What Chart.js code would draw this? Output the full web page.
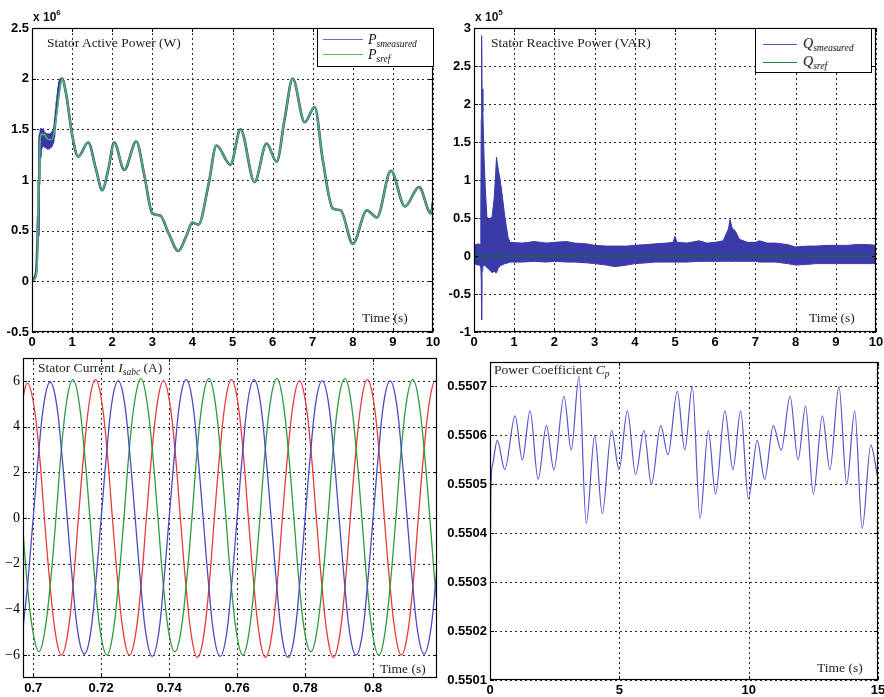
<!DOCTYPE html>
<html>
<head>
<meta charset="utf-8">
<script src="https://cdn.jsdelivr.net/npm/chart.js@4.4.0/dist/chart.umd.min.js"></script>
<style>
body { margin: 0; background: #fff; }
#wrap { position: relative; width: 884px; height: 697px; overflow: hidden; background: #fff; }
canvas { position: absolute; }
.t { position: absolute; font-family: "Liberation Serif", "Times New Roman", serif; font-size: 13.5px; line-height: 14px; color: #222; white-space: nowrap; }
.t sub, .lt sub { font-size: 9.5px; font-style: italic; vertical-align: -3px; line-height: 0; }
.exp { position: absolute; font: bold 12px "Liberation Sans", Arial, sans-serif; color: #111; white-space: nowrap; }
.exp sup { font-size: 8px; vertical-align: 6px; line-height: 0; }
.leg { position: absolute; border: 1px solid #000; background: #fff; }
.leg .ln { position: absolute; height: 0; border-top: 1.5px solid; }
.lt { position: absolute; font-family: "Liberation Serif", "Times New Roman", serif; font-size: 14px; line-height: 14px; color: #111; white-space: nowrap; }
</style>
</head>
<body>
<div id="wrap">
  <canvas id="c1" width="442" height="350" style="left:0;top:0"></canvas>
  <canvas id="c2" width="442" height="350" style="left:442px;top:0"></canvas>
  <canvas id="c3" width="442" height="347" style="left:0;top:350px"></canvas>
  <canvas id="c4" width="442" height="347" style="left:442px;top:350px"></canvas>

  <div class="exp" style="left:33px;top:10px">x 10<sup>6</sup></div>
  <div class="t" style="left:47px;top:36px">Stator Active Power (W)</div>
  <div class="t" style="left:362px;top:311px">Time (s)</div>
  <div class="leg" style="left:317px;top:28px;width:115px;height:37px">
    <div class="ln" style="left:5px;top:10px;width:40px;border-color:#6c6cd6"></div>
    <div class="ln" style="left:5px;top:25px;width:40px;border-color:#5cb85c"></div>
    <div class="lt" style="left:50px;top:4px"><i>P</i><sub>smeasured</sub></div>
    <div class="lt" style="left:50px;top:19px"><i>P</i><sub>sref</sub></div>
  </div>

  <div class="exp" style="left:475px;top:10px">x 10<sup>5</sup></div>
  <div class="t" style="left:491px;top:36px">Stator Reactive Power (VAR)</div>
  <div class="t" style="left:809px;top:311px">Time (s)</div>
  <div class="leg" style="left:755px;top:28px;width:115px;height:43px">
    <div class="ln" style="left:7px;top:15px;width:34px;border-color:#5050cc"></div>
    <div class="ln" style="left:7px;top:33px;width:34px;border-color:#208040"></div>
    <div class="lt" style="left:47px;top:8px"><i>Q</i><sub>smeasured</sub></div>
    <div class="lt" style="left:47px;top:26px"><i>Q</i><sub>sref</sub></div>
  </div>

  <div class="t" style="left:38px;top:361px">Stator Current <i>I</i><sub>sabc</sub> (A)</div>
  <div class="t" style="left:380px;top:662px">Time (s)</div>

  <div class="t" style="left:494px;top:363px">Power Coefficient <i>C</i><sub>p</sub></div>
  <div class="t" style="left:817px;top:661px">Time (s)</div>
</div>
<script>
// ---- Stator active power (x 10^6 W) ----
var pTime = [0, 0.1, 0.13, 0.17, 0.2, 0.22, 0.3, 0.4, 0.5, 0.6, 0.68, 0.75, 0.85, 1.0, 1.15, 1.4, 1.6, 1.75, 1.9, 2.05,
  2.3, 2.6, 2.8, 3.0, 3.2, 3.4, 3.65, 3.85, 4.0, 4.15, 4.4, 4.6, 4.95, 5.2, 5.55, 5.85, 6.1, 6.3, 6.5, 6.8,
  7.05, 7.25, 7.5, 7.7, 8.0, 8.35, 8.6, 8.95, 9.3, 9.65, 9.95, 10];
var pRef = [0, 0.05, 0.2, 0.9, 1.35, 1.45, 1.45, 1.4, 1.4, 1.6, 1.85, 2.0, 1.85, 1.45, 1.23, 1.37, 1.1, 0.9, 1.1, 1.37,
  1.1, 1.38, 1.05, 0.67, 0.65, 0.48, 0.3, 0.45, 0.58, 0.56, 0.95, 1.34, 1.15, 1.5, 0.98, 1.36, 1.18, 1.6, 2.0, 1.57,
  1.72, 1.2, 0.72, 0.7, 0.37, 0.7, 0.63, 1.09, 0.74, 0.93, 0.67, 0.78];
// measured power during the start-up transient (after 0.75 s it follows the reference)
var pMeasTime = [0, 0.05, 0.1, 0.12, 0.14, 0.15, 0.16, 0.17, 0.18, 0.19,
  0.20, 0.21, 0.22, 0.23, 0.24, 0.25, 0.26, 0.27, 0.28, 0.29, 0.30, 0.31, 0.32, 0.33, 0.34, 0.35, 0.36,
  0.37, 0.38, 0.39, 0.40, 0.41, 0.42, 0.43, 0.44, 0.45, 0.46, 0.47, 0.48, 0.49, 0.50, 0.51, 0.52, 0.53,
  0.54, 0.55, 0.56, 0.57, 0.58, 0.59, 0.60, 0.61, 0.62, 0.63, 0.64, 0.65, 0.66, 0.67, 0.68, 0.69, 0.70];
var pMeas = [0, 0.03, 0.08, 0.2, 0.45, 0.65, 0.45, 1.0, 0.95, 1.45,
  1.45, 1.22, 1.5, 1.3, 1.5, 1.32, 1.48, 1.34, 1.5, 1.35, 1.47, 1.33, 1.45, 1.33, 1.46, 1.32, 1.44,
  1.32, 1.45, 1.31, 1.44, 1.32, 1.45, 1.31, 1.44, 1.32, 1.45, 1.33, 1.46, 1.33, 1.47, 1.35, 1.48, 1.37,
  1.5, 1.42, 1.55, 1.5, 1.62, 1.58, 1.7, 1.66, 1.78, 1.72, 1.85, 1.8, 1.92, 1.86, 1.97, 1.9, 1.98];
var pTicksX = [0, 1, 2, 3, 4, 5, 6, 7, 8, 9, 10];
var pTicksY = [-0.5, 0, 0.5, 1, 1.5, 2, 2.5];

// ---- Stator reactive power (x 10^5 VAR): envelope of the measured ripple ----
var qTime = [0, 0.1, 0.15, 0.17, 0.18, 0.19, 0.2, 0.22, 0.25, 0.28, 0.32, 0.38, 0.45, 0.5, 0.53, 0.56, 0.6, 0.65, 0.69, 0.77,
  0.85, 0.9, 1.2, 1.5, 1.8, 2.0, 2.3, 2.5, 2.8, 3.0, 3.3, 3.5, 3.8, 4.0, 4.3, 4.5, 4.8, 4.95, 5.0, 5.05,
  5.3, 5.6, 5.8, 6.0, 6.2, 6.28, 6.33, 6.37, 6.42, 6.5, 6.6, 6.8, 7.0, 7.1, 7.3, 7.5, 7.8, 8.0, 8.3, 8.5,
  8.8, 9.0, 9.3, 9.5, 9.8, 10];
var qUpper = [0.14, 0.16, 0.15, 0.6, 1.8, 2.9, 2.2, 1.9, 1.3, 0.9, 0.52, 0.48, 0.52, 0.75, 1.0, 1.3, 1.15, 1.0, 0.85, 0.5,
  0.24, 0.18, 0.17, 0.19, 0.17, 0.18, 0.19, 0.17, 0.16, 0.14, 0.13, 0.13, 0.13, 0.14, 0.15, 0.16, 0.17, 0.18, 0.26, 0.18,
  0.17, 0.2, 0.17, 0.18, 0.2, 0.3, 0.36, 0.48, 0.37, 0.33, 0.22, 0.18, 0.18, 0.2, 0.17, 0.17, 0.15, 0.12, 0.13, 0.13,
  0.14, 0.14, 0.14, 0.15, 0.15, 0.14];
var qLower = [-0.1, -0.12, -0.12, -0.15, -0.3, -0.84, -0.2, -0.14, -0.12, -0.13, -0.15, -0.18, -0.22, -0.2, -0.22, -0.22, -0.16, -0.13, -0.12, -0.1,
  -0.09, -0.08, -0.08, -0.07, -0.08, -0.07, -0.08, -0.08, -0.09, -0.1, -0.12, -0.14, -0.12, -0.1, -0.09, -0.08, -0.08, -0.08, -0.08, -0.08,
  -0.08, -0.07, -0.07, -0.07, -0.07, -0.07, -0.07, -0.07, -0.07, -0.07, -0.07, -0.07, -0.07, -0.08, -0.08, -0.08, -0.1, -0.12, -0.11, -0.1,
  -0.1, -0.1, -0.1, -0.1, -0.1, -0.1];
var qRefTime = [0, 10];
var qRef = [0, 0];
var qTicksX = [0, 1, 2, 3, 4, 5, 6, 7, 8, 9, 10];
var qTicksY = [-1, -0.5, 0, 0.5, 1, 1.5, 2, 2.5, 3];

// ---- Stator current, three phases (A) ----
var iTime = [0.6967, 0.6983, 0.7000, 0.7017, 0.7033, 0.7050, 0.7067, 0.7083, 0.7100, 0.7117, 0.7133, 0.7150,
  0.7167, 0.7183, 0.7200, 0.7217, 0.7233, 0.7250, 0.7267, 0.7283, 0.7300, 0.7317, 0.7333, 0.7350,
  0.7367, 0.7383, 0.7400, 0.7417, 0.7433, 0.7450, 0.7467, 0.7483, 0.7500, 0.7517, 0.7533, 0.7550,
  0.7567, 0.7583, 0.7600, 0.7617, 0.7633, 0.7650, 0.7667, 0.7683, 0.7700, 0.7717, 0.7733, 0.7750,
  0.7767, 0.7783, 0.7800, 0.7817, 0.7833, 0.7850, 0.7867, 0.7883, 0.7900, 0.7917, 0.7933, 0.7950,
  0.7967, 0.7983, 0.8000, 0.8017, 0.8033, 0.8050, 0.8067, 0.8083, 0.8100, 0.8117, 0.8133, 0.8150,
  0.8167, 0.8183, 0.8200];
var iBlue = [-5.2, -3.0, 0, 3.0, 5.15, 5.95, 5.15, 3.0, 0, -3.0, -5.15, -5.95,
  -5.2, -3.0, 0, 3.0, 5.2, 6.0, 5.2, 3.0, 0, -3.0, -5.2, -6.05,
  -5.25, -3.0, 0, 3.0, 5.25, 6.05, 5.25, 3.0, 0, -3.05, -5.25, -6.05,
  -5.25, -3.05, 0, 3.0, 5.25, 6.05, 5.2, 3.0, 0, -3.05, -5.3, -6.1,
  -5.3, -3.05, 0, 3.0, 5.2, 6.0, 5.2, 3.0, 0, -3.0, -5.2, -6.0,
  -5.2, -3.0, 0, 3.0, 5.2, 6.0, 5.2, 3.0, 0, -3.0, -5.15, -5.95,
  -5.15, -3.0, 0];
var iGreen = [0, -2.95, -5.05, -5.85, -5.05, -2.95, 0, 3.0, 5.25, 6.05, 5.25, 3.0,
  0, -3.0, -5.2, -6.0, -5.2, -3.0, 0, 3.05, 5.25, 6.1, 5.25, 3.05,
  0, -2.95, -5.1, -5.85, -5.1, -2.95, 0, 3.05, 5.3, 6.1, 5.3, 3.05,
  0, -3.0, -5.2, -6.0, -5.2, -3.0, 0, 3.05, 5.3, 6.1, 5.3, 3.05,
  0, -2.95, -5.1, -5.85, -5.1, -2.95, 0, 3.05, 5.3, 6.1, 5.3, 3.05,
  0, -3.0, -5.2, -6.0, -5.2, -3.0, 0, 3.0, 5.25, 6.05, 5.25, 3.0,
  0, -3.0, -5.2];
var iRed = [5.1, 5.9, 5.1, 3.0, 0, -3.0, -5.2, -6.0, -5.2, -3.0, 0, 3.0,
  5.25, 6.05, 5.25, 3.0, 0, -3.0, -5.2, -6.0, -5.2, -3.0, 0, 3.0,
  5.2, 6.0, 5.2, 3.0, 0, -3.05, -5.3, -6.1, -5.3, -3.05, 0, 3.0,
  5.25, 6.05, 5.25, 3.0, 0, -3.05, -5.3, -6.1, -5.3, -3.05, 0, 3.0,
  5.2, 6.0, 5.2, 3.0, 0, -3.05, -5.3, -6.1, -5.3, -3.05, 0, 3.0,
  5.25, 6.05, 5.25, 3.0, 0, -3.0, -5.2, -6.0, -5.2, -3.0, 0, 3.0,
  5.2, 6.0, 5.2];
var iTicksX = [0.7, 0.72, 0.74, 0.76, 0.78, 0.8];
var iTicksY = [-6, -4, -2, 0, 2, 4, 6];

// ---- Power coefficient Cp ----
var cpTime = [0, 0.03, 0.1, 0.28, 0.57, 0.97, 1.25, 1.55, 1.86, 2.18, 2.47, 2.86, 3.14, 3.44, 3.72, 4.05, 4.34,
  4.7, 4.99, 5.31, 5.63, 5.95, 6.24, 6.6, 6.88, 7.24, 7.53, 7.82, 8.12, 8.44, 8.72, 9.08, 9.39, 9.69, 9.99,
  10.33, 10.62, 10.95, 11.26, 11.6, 11.91, 12.2, 12.5, 12.85, 13.14, 13.49, 13.79, 14.1, 14.39, 14.72, 15];
var cp = [0.5501, 0.55048, 0.55054, 0.55059, 0.55053, 0.55064, 0.55055, 0.55065, 0.55051, 0.55062, 0.55053, 0.55068,
  0.55057, 0.55072, 0.55042, 0.5506, 0.55044, 0.55061, 0.55053, 0.55065, 0.55052, 0.55061, 0.5505, 0.55062,
  0.55056, 0.55069, 0.55057, 0.5507, 0.55043, 0.55061, 0.55048, 0.55065, 0.55053, 0.55065, 0.55047, 0.55059,
  0.55051, 0.55062, 0.55057, 0.55068, 0.55055, 0.55066, 0.55048, 0.55064, 0.55053, 0.5507, 0.5505, 0.55065,
  0.55041, 0.55058, 0.55051];
var cpTicksX = [0, 5, 10, 15];
var cpTicksY = [0.5501, 0.5502, 0.5503, 0.5504, 0.5505, 0.5506, 0.5507];


function pts(xs, ys) {
  return xs.map(function (x, i) { return { x: x, y: ys[i] }; });
}

// matlab style: dotted grid under the data, box with inward ticks on top
var boxPlugin = {
  id: 'box',
  beforeDatasetsDraw: function (chart) {
    var a = chart.chartArea, ctx = chart.ctx;
    var sx = chart.scales.x, sy = chart.scales.y;
    ctx.save();
    ctx.strokeStyle = '#2a2a2a';
    ctx.lineWidth = 1;
    ctx.setLineDash([2, 3]);
    ctx.beginPath();
    sx.ticks.forEach(function (t) {
      var p = Math.round(sx.getPixelForValue(t.value)) + 0.5;
      ctx.moveTo(p, a.top); ctx.lineTo(p, a.bottom);
    });
    sy.ticks.forEach(function (t) {
      var p = Math.round(sy.getPixelForValue(t.value)) + 0.5;
      ctx.moveTo(a.left, p); ctx.lineTo(a.right, p);
    });
    ctx.stroke();
    ctx.restore();
  },
  afterDatasetsDraw: function (chart) {
    var a = chart.chartArea, ctx = chart.ctx;
    var sx = chart.scales.x, sy = chart.scales.y;
    ctx.save();
    ctx.setLineDash([]);
    ctx.strokeStyle = '#000';
    ctx.lineWidth = 1;
    ctx.beginPath();
    sx.ticks.forEach(function (t) {
      var p = Math.round(sx.getPixelForValue(t.value)) + 0.5;
      ctx.moveTo(p, a.bottom); ctx.lineTo(p, a.bottom - 4);
      ctx.moveTo(p, a.top); ctx.lineTo(p, a.top + 4);
    });
    sy.ticks.forEach(function (t) {
      var p = Math.round(sy.getPixelForValue(t.value)) + 0.5;
      ctx.moveTo(a.left, p); ctx.lineTo(a.left + 4, p);
      ctx.moveTo(a.right, p); ctx.lineTo(a.right - 4, p);
    });
    ctx.stroke();
    ctx.lineWidth = 1.2;
    ctx.strokeRect(Math.round(a.left) + 0.5, Math.round(a.top) + 0.5,
      Math.round(a.right - a.left) - 1, Math.round(a.bottom - a.top) - 1);
    ctx.restore();
  }
};

var boldTick = { family: 'Liberation Sans', weight: 'bold', size: 13 };

function axisX(min, max, ticks, fmt, h) {
  return {
    type: 'linear', min: min, max: max,
    afterBuildTicks: function (s) { s.ticks = ticks.map(function (v) { return { value: v }; }); },
    afterFit: function (s) { s.height = h; s.paddingLeft = 0; s.paddingRight = 0; },
    grid: { display: false, drawTicks: false },
    border: { display: false },
    ticks: { color: '#000', padding: 3, font: boldTick, maxRotation: 0, autoSkip: false, callback: fmt }
  };
}

function axisY(min, max, ticks, fmt, w, font) {
  return {
    type: 'linear', min: min, max: max,
    afterBuildTicks: function (s) { s.ticks = ticks.map(function (v) { return { value: v }; }); },
    afterFit: function (s) { s.width = w; s.paddingTop = 0; s.paddingBottom = 0; },
    grid: { display: false, drawTicks: false },
    border: { display: false },
    ticks: { color: '#000', padding: 3, font: font || boldTick, autoSkip: false, callback: fmt }
  };
}

function plain(v) { return String(+v.toFixed(4)); }

function baseOptions(pad, scales) {
  return {
    responsive: false,
    animation: false,
    layout: { padding: { top: pad.top, right: pad.right, left: 0, bottom: 0 } },
    plugins: { legend: { display: false }, tooltip: { enabled: false } },
    elements: { point: { radius: 0 } },
    scales: scales
  };
}

// Chart 1 - active power
var pMeasured = pts(pMeasTime, pMeas).concat(pts(pTime, pRef).filter(function (p) { return p.x >= 0.75; }));
new Chart(document.getElementById('c1').getContext('2d'), {
  type: 'line',
  data: {
    datasets: [
      { label: 'P_sref', data: pts(pTime, pRef), borderColor: '#4fb85f', borderWidth: 1.6,
        cubicInterpolationMode: 'monotone', order: 0 },
      { label: 'P_smeasured', data: pMeasured, borderColor: '#3838a8', borderWidth: 2.6,
        cubicInterpolationMode: 'monotone', order: 1 }
    ]
  },
  options: baseOptions({ top: 28, right: 9 }, {
    x: axisX(0, 10, pTicksX, plain, 18),
    y: axisY(-0.5, 2.5, pTicksY, plain, 32)
  }),
  plugins: [boxPlugin]
});

// Chart 2 - reactive power
new Chart(document.getElementById('c2').getContext('2d'), {
  type: 'line',
  data: {
    datasets: [
      { label: 'Q low', data: pts(qTime, qLower), borderColor: '#3a3aa8', borderWidth: 1, tension: 0, fill: false, order: 2 },
      { label: 'Q_smeasured', data: pts(qTime, qUpper), borderColor: '#3a3aa8', borderWidth: 1, tension: 0,
        fill: '-1', backgroundColor: '#3a3aa8', order: 1 },
      { label: 'Q_sref', data: pts(qRefTime, qRef), borderColor: '#1d6a3c', borderWidth: 1.5, tension: 0, order: 0 }
    ]
  },
  options: baseOptions({ top: 28, right: 8 }, {
    x: axisX(0, 10, qTicksX, plain, 18),
    y: axisY(-1, 3, qTicksY, plain, 32)
  }),
  plugins: [boxPlugin]
});

// Chart 3 - stator currents
new Chart(document.getElementById('c3').getContext('2d'), {
  type: 'line',
  data: {
    datasets: [
      { label: 'Ia', data: pts(iTime, iBlue), borderColor: '#4a4ac4', borderWidth: 1.3, tension: 0.4 },
      { label: 'Ib', data: pts(iTime, iGreen), borderColor: '#2f9a3f', borderWidth: 1.3, tension: 0.4 },
      { label: 'Ic', data: pts(iTime, iRed), borderColor: '#e83a3a', borderWidth: 1.3, tension: 0.4 }
    ]
  },
  options: baseOptions({ top: 8, right: 5 }, {
    x: axisX(0.697, 0.8188, iTicksX, plain, 19),
    y: axisY(-7, 7, iTicksY, function (v) { return v < 0 ? '\u2212' + Math.abs(v) : String(v); }, 23,
      { family: 'Liberation Serif', size: 14 })
  }),
  plugins: [boxPlugin]
});

// Chart 4 - power coefficient
new Chart(document.getElementById('c4').getContext('2d'), {
  type: 'line',
  data: {
    datasets: [
      { label: 'Cp', data: pts(cpTime, cp), borderColor: '#5555cc', borderWidth: 1.2, cubicInterpolationMode: 'monotone' }
    ]
  },
  options: baseOptions({ top: 12, right: 6 }, {
    x: axisX(0, 15, cpTicksX, plain, 17),
    y: axisY(0.5501, 0.55075, cpTicksY, function (v) { return v.toFixed(4); }, 48)
  }),
  plugins: [boxPlugin]
});
</script>
</body>
</html>
